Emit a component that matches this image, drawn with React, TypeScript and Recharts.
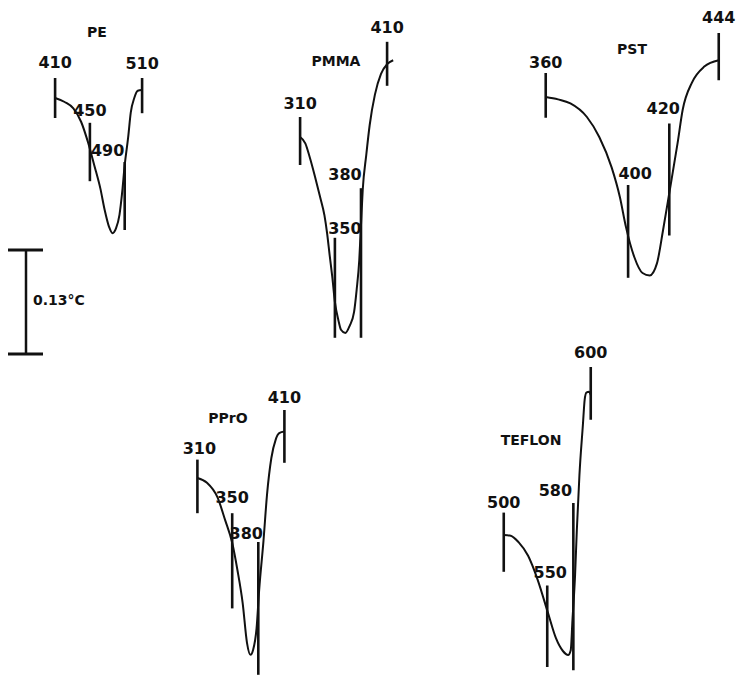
import React from 'react';
import { LineChart, Line, XAxis, YAxis, ReferenceLine } from 'recharts';

// traces: [temperature °C, ΔT °C relative to start of trace]
const peCurve = [
  [410, 0], [421, -0.005], [431, -0.013], [440, -0.03], [448, -0.056], [455, -0.084],
  [462, -0.113], [467, -0.14], [472, -0.161], [476, -0.169], [480, -0.163], [484, -0.146],
  [487, -0.119], [490, -0.084], [494, -0.049], [497, -0.018], [501, 0.0], [505, 0.009], [510, 0.01],
];
const pmmaCurve = [
  [310, 0], [316, -0.008], [321, -0.025], [327, -0.049], [333, -0.075], [338, -0.098],
  [341, -0.12], [344, -0.148], [347, -0.175], [350, -0.206], [354, -0.229], [357, -0.241],
  [362, -0.245], [367, -0.236], [372, -0.219], [375, -0.191], [378, -0.154], [380, -0.11],
  [382, -0.066], [386, -0.023], [390, 0.015], [396, 0.053], [403, 0.079], [410, 0.091], [417, 0.096],
];
const pstCurve = [
  [360, 0], [366, -0.003], [372, -0.008], [380, -0.025], [386, -0.05], [392, -0.088],
  [396, -0.125], [399, -0.163], [403, -0.2], [407, -0.22], [410.5, -0.223], [414, -0.208],
  [417, -0.166], [420, -0.12], [424, -0.058], [426.5, -0.016], [431, 0.018], [437, 0.038], [444, 0.046],
];
const pproCurve = [
  [310, 0], [321, -0.006], [333, -0.024], [342, -0.053], [350, -0.081], [356, -0.115],
  [362, -0.156], [367, -0.206], [371, -0.221], [374, -0.215], [378, -0.188], [381, -0.14],
  [386, -0.078], [390, -0.021], [395, 0.025], [400, 0.048], [404, 0.056], [410, 0.058],
];
const teflonCurve = [
  [500, 0], [508, -0.001], [517, -0.009], [528, -0.026], [539, -0.056], [551, -0.098],
  [560, -0.129], [568, -0.145], [574, -0.15], [577, -0.144], [579, -0.106], [582, -0.05],
  [584, 0.006], [587, 0.075], [591, 0.138], [593, 0.169], [595, 0.178], [598, 0.179], [600, 0.175],
];

// temperature marks: [temperature, ΔT bottom, ΔT top]
const peTicks = [[410, -0.025, 0.025], [450, -0.104, -0.031], [490, -0.165, -0.08], [510, -0.019, 0.025]];
const pmmaTicks = [[310, -0.035, 0.025], [350, -0.251, -0.126], [380, -0.251, -0.064], [410, 0.064, 0.119]];
const pstTicks = [[360, -0.026, 0.03], [400, -0.226, -0.11], [420, -0.173, -0.033], [444, 0.021, 0.08]];
const pproTicks = [[310, -0.044, 0.023], [350, -0.163, -0.044], [380, -0.246, -0.08], [410, 0.019, 0.085]];
const teflonTicks = [[500, -0.046, 0.028], [550, -0.165, -0.063], [580, -0.169, 0.04], [600, 0.144, 0.21]];

const SCALE_BAR = 0.13; // °C

const INK = '#111';
const FONT = '"DejaVu Sans", sans-serif';

// label nudges [dx, px above tick top]
const nudge: Record<string, [number, number]> = {
  'PE-410': [0, 16], 'PE-450': [0, 13], 'PE-490': [-17, 12], 'PE-510': [0, 15],
  'PMMA-310': [0, 14], 'PMMA-350': [10, 10], 'PMMA-380': [-16, 14], 'PMMA-410': [0, 15],
  'PST-360': [0, 11], 'PST-400': [7, 12], 'PST-420': [-6, 15], 'PST-444': [0, 16],
  'PPrO-310': [2, 12], 'PPrO-350': [0, 16], 'PPrO-380': [-12, 9], 'PPrO-410': [0, 13],
  'TEFLON-500': [0, 11], 'TEFLON-550': [3, 13], 'TEFLON-580': [-18, 13], 'TEFLON-600': [0, 15],
};

const panels = [
  { name: 'PE', curve: peCurve, ticks: peTicks, box: [28.9, 18, 147.9, 240], x: [380, 550], y: [-0.2, 0.1], title: [97, 32] },
  { name: 'PMMA', curve: pmmaCurve, ticks: pmmaTicks, box: [273.9, 9, 147.9, 336], x: [280, 450], y: [-0.26, 0.16], title: [336, 61] },
  { name: 'PST', curve: pstCurve, ticks: pstTicks, box: [521.3, 5, 220.4, 288], x: [348, 455], y: [-0.245, 0.115], title: [632, 49] },
  { name: 'PPrO', curve: pproCurve, ticks: pproTicks, box: [179.6, 382, 130.5, 304], x: [290, 440], y: [-0.26, 0.12], title: [228, 418] },
  { name: 'TEFLON', curve: teflonCurve, ticks: teflonTicks, box: [482.25, 339, 134.85, 340], x: [475, 630], y: [-0.18, 0.245], title: [531, 440] },
];

const Panel = ({ p }: { p: typeof panels[number] }) => {
  const [left, top, width, height] = p.box;
  const curve = p.curve.map(([t, d]) => ({ t, d }));
  return (
    <div style={{ position: 'absolute', left, top }}>
      <LineChart width={width} height={height} margin={{ top: 0, right: 0, bottom: 0, left: 0 }}>
        <XAxis type="number" dataKey="t" domain={p.x} hide allowDataOverflow />
        <YAxis type="number" domain={p.y} hide allowDataOverflow />
        <Line data={curve} dataKey="d" type="monotone" stroke={INK} strokeWidth={2}
          dot={false} activeDot={false} isAnimationActive={false} />
        {p.ticks.map(([t, lo, hi]) => {
          const [dx, up] = nudge[`${p.name}-${t}`] || [0, 13];
          return (
            <Line key={t} data={[{ t, d: lo }, { t, d: hi }]} dataKey="d" type="linear"
              stroke={INK} strokeWidth={2.6} activeDot={false} isAnimationActive={false}
              dot={(dp: any) => dp.index === 1 ? (
                <text key={`l${t}`} x={dp.cx + dx} y={dp.cy - up + 6} textAnchor="middle"
                  fontFamily={FONT} fontWeight="bold" fontSize={16} fill={INK}>{t}</text>
              ) : <g key={`n${t}`} />} />
          );
        })}
      </LineChart>
      <div style={{
        position: 'absolute', left: p.title[0] - left, top: p.title[1] - top,
        transform: 'translate(-50%, -50%)', fontFamily: FONT, fontWeight: 'bold',
        fontSize: 14, lineHeight: 1, color: INK, whiteSpace: 'nowrap',
      }}>{p.name}</div>
    </div>
  );
};

const ScaleBar = () => (
  <div style={{ position: 'absolute', left: 0, top: 240 }}>
    <LineChart width={100} height={120} margin={{ top: 0, right: 0, bottom: 0, left: 0 }}>
      <XAxis type="number" dataKey="t" domain={[0, 100]} hide allowDataOverflow />
      <YAxis type="number" domain={[-0.0075, 0.1425]} hide allowDataOverflow />
      <ReferenceLine segment={[{ x: 26, y: 0 }, { x: 26, y: SCALE_BAR }]} stroke={INK} strokeWidth={2.5} />
      <ReferenceLine segment={[{ x: 8, y: 0 }, { x: 43, y: 0 }]} stroke={INK} strokeWidth={3} />
      <ReferenceLine segment={[{ x: 8, y: SCALE_BAR }, { x: 43, y: SCALE_BAR }]} stroke={INK} strokeWidth={3} />
    </LineChart>
    <div style={{
      position: 'absolute', left: 33, top: 60, transform: 'translateY(-50%)',
      fontFamily: FONT, fontWeight: 'bold', fontSize: 14, lineHeight: 1, color: INK, whiteSpace: 'nowrap',
    }}>{`${SCALE_BAR}°C`.replace(/^0\./, '0.')}</div>
  </div>
);

export default function App() {
  return (
    <div style={{ position: 'absolute', left: 0, top: 0, width: 739, height: 677, overflow: 'hidden', background: '#fff' }}>
      {panels.map((p) => <Panel key={p.name} p={p} />)}
      <ScaleBar />
    </div>
  );
}
